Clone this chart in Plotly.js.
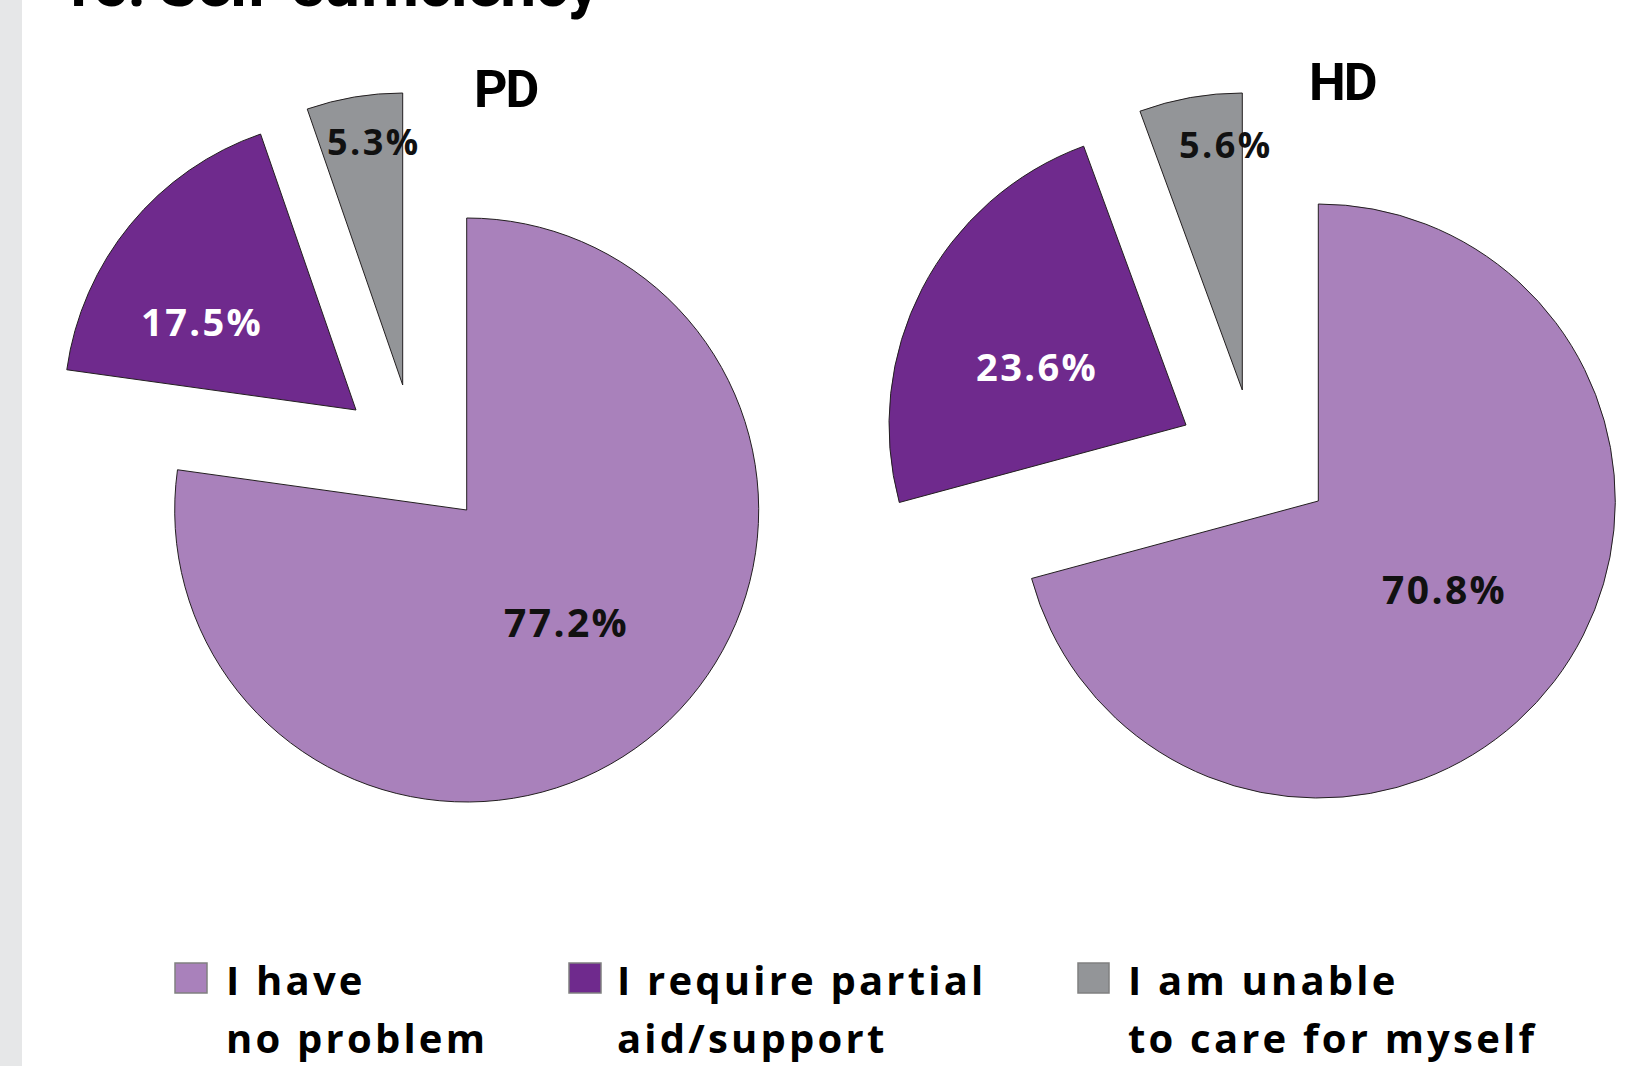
<!DOCTYPE html>
<html>
<head>
<meta charset="utf-8">
<script src="https://cdn.plot.ly/plotly-3.0.1.min.js"></script>
<style>html,body{margin:0;padding:0;background:#fff;}#chart{width:1644px;height:1066px;}</style>
</head>
<body>
<div id="chart"></div>
<script>
// ---- data ----
const categories = ['I have<br>no problem', 'I require partial<br>aid/support', 'I am unable<br>to care for myself'];
const groups = ['PD', 'HD'];
const pdValues = [77.2, 17.5, 5.3];
const hdValues = [70.8, 23.6, 5.6];
const sliceColors = ['#a981bb', '#6f2a8d', '#939598'];
const labelColors = ['#111111', '#ffffff', '#111111'];
const pageTitle = ['15.', 'Self-sufficiency'];

// ---- layout helpers (pixels in a 1644x1066 page) ----
const W = 1644, H = 1066;
const px = x => x / W;
const py = y => 1 - y / H;
const spaced = (t, s) => '<span style="letter-spacing:' + s + 'px">' + t + '</span>';

const condensed = 'Roboto, Liberation Sans, sans-serif';
const bodyFont = 'Open Sans, Noto Sans, sans-serif';

// centres of each exploded slice (apex) for each pie, and radius
const pieGeom = [
  { r: 292, apex: [[466.7, 510], [356, 410], [402.7, 385]],
    labelPos: [[566, 621], [202, 321], [373, 141]], titlePos: [506, 90] },
  { r: 297, apex: [[1318.3, 501], [1186, 425], [1242.3, 390]],
    labelPos: [[1444, 588], [1037, 366], [1225, 144]], titlePos: [1342, 83] }
];
const labelSizes = [39, 38, 36];

const allValues = [pdValues, hdValues];
const traces = [];
const annotations = [];

allValues.forEach((vals, g) => {
  const geo = pieGeom[g];
  vals.forEach((v, k) => {
    const [cx, cy] = geo.apex[k];
    const r = geo.r;
    traces.push({
      type: 'pie',
      values: vals,
      labels: categories,
      sort: false,
      direction: 'clockwise',
      rotation: 0,
      textinfo: 'none',
      hoverinfo: 'label+percent',
      showlegend: false,
      marker: {
        colors: sliceColors.map((c, i) => i === k ? c : 'rgba(0,0,0,0)'),
        line: {
          color: sliceColors.map((c, i) => i === k ? '#231f20' : 'rgba(0,0,0,0)'),
          width: sliceColors.map((c, i) => i === k ? 1 : 0)
        }
      },
      domain: { x: [px(cx - r), px(cx + r)], y: [py(cy + r), py(cy - r)] }
    });
    const [lx, ly] = geo.labelPos[k];
    annotations.push({
      xref: 'paper', yref: 'paper', x: px(lx), y: py(ly),
      xanchor: 'center', yanchor: 'middle', showarrow: false,
      text: spaced(v.toFixed(1) + '%', 2.4),
      font: { family: bodyFont, size: labelSizes[k], weight: 'bold', color: labelColors[k] }
    });
  });
  annotations.push({
    xref: 'paper', yref: 'paper', x: px(geo.titlePos[0]), y: py(geo.titlePos[1]),
    xanchor: 'center', yanchor: 'middle', showarrow: false,
    text: spaced(groups[g], -2),
    font: { family: condensed, size: 52, weight: 'bold', color: '#000' }
  });
});

// page title (its lower part only is visible, as in the source)
annotations.push({
  xref: 'paper', yref: 'paper', x: px(56), y: py(-16), xanchor: 'left', yanchor: 'middle', showarrow: false,
  text: spaced(pageTitle[0], -2), font: { family: condensed, size: 64, weight: 'bold', color: '#000' }
});
annotations.push({
  xref: 'paper', yref: 'paper', x: px(156), y: py(-16), xanchor: 'left', yanchor: 'middle', showarrow: false,
  text: spaced(pageTitle[1], -1), font: { family: condensed, size: 64, weight: 'bold', color: '#000' }
});

// legend (drawn as squares + text, one annotation per line)
const legendSquares = [[175, 207], [569, 601], [1078, 1109]];
const legendTextX = [224, 615, 1126];
const legendLineY = [980, 1037];
const shapes = [
  { type: 'rect', xref: 'paper', yref: 'paper', x0: 0, x1: px(22), y0: 0, y1: 1,
    fillcolor: '#e6e7e8', line: { width: 0 }, layer: 'below' }
];
categories.forEach((cat, i) => {
  shapes.push({
    type: 'rect', xref: 'paper', yref: 'paper',
    x0: px(legendSquares[i][0]), x1: px(legendSquares[i][1]), y0: py(993), y1: py(963),
    fillcolor: sliceColors[i], line: { color: '#808080', width: 1.5 }
  });
  cat.split('<br>').forEach((line, j) => {
    annotations.push({
      xref: 'paper', yref: 'paper', x: px(legendTextX[i]), y: py(legendLineY[j]), xanchor: 'left', yanchor: 'middle',
      align: 'left', showarrow: false, text: spaced(line, 3.2),
      font: { family: bodyFont, size: 40, weight: 'bold', color: '#000' }
    });
  });
});

const layout = {
  width: W, height: H,
  margin: { l: 0, r: 0, t: 0, b: 0 },
  paper_bgcolor: '#ffffff',
  showlegend: false,
  annotations: annotations,
  shapes: shapes
};

Plotly.newPlot('chart', traces, layout, { displayModeBar: false, staticPlot: true });
</script>
</body>
</html>
